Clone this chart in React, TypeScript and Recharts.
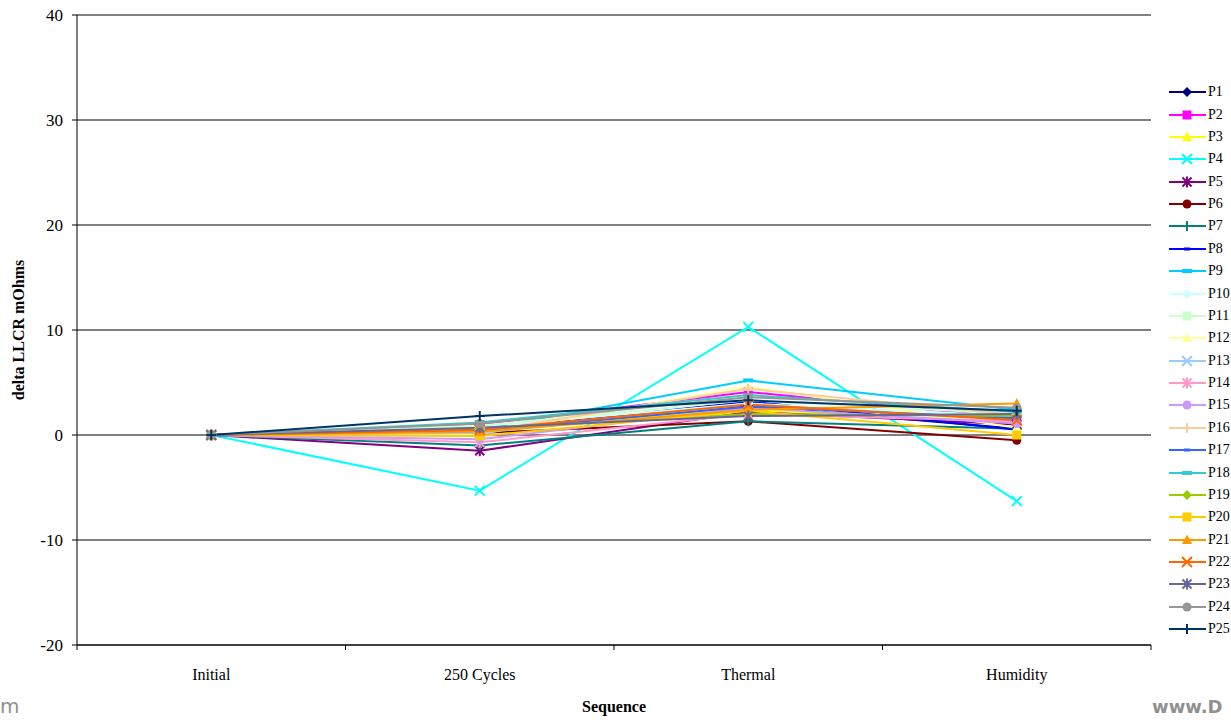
import { LineChart, Line, XAxis, YAxis, CartesianGrid } from "recharts";

// sequence steps on the x axis
const stages = ["Initial", "250 Cycles", "Thermal", "Humidity"];
const yTicks = [-20, -10, 0, 10, 20, 30, 40];

// delta LLCR (mOhms) per position
const p1 = [0, 0.3, 2.8, 0.6];
const p2 = [0, 1.0, 4.1, 1.6];
const p3 = [0, 0.6, 2.4, 1.2];
const p4 = [0, -5.3, 10.3, -6.3];
const p5 = [0, -1.5, 2.2, 1.0];
const p6 = [0, 0.2, 1.3, -0.5];
const p7 = [0, -1.0, 1.3, 0.6];
const p8 = [0, 0.4, 3.2, 0.5];
const p9 = [0, 0.5, 5.2, 2.4];
const p10 = [0, 0.8, 3.0, 1.8];
const p11 = [0, 0.9, 3.3, 2.0];
const p12 = [0, 0.1, 4.6, 0.7];
const p13 = [0, 0.2, 2.9, 1.5];
const p14 = [0, -0.7, 2.0, 1.3];
const p15 = [0, -0.4, 2.6, 1.1];
const p16 = [0, 0.3, 4.4, 1.9];
const p17 = [0, 0.4, 2.7, 1.6];
const p18 = [0, 1.2, 3.8, 2.2];
const p19 = [0, 0.6, 2.0, 1.8];
const p20 = [0, -0.1, 2.3, 0.0];
const p21 = [0, 0.3, 2.4, 3.0];
const p22 = [0, 0.5, 2.9, 1.4];
const p23 = [0, 0.7, 1.8, 2.0];
const p24 = [0, 1.1, 3.6, 2.6];
const p25 = [0, 1.8, 3.3, 2.3];

const seriesValues = [
  p1, p2, p3, p4, p5, p6, p7, p8, p9, p10, p11, p12, p13,
  p14, p15, p16, p17, p18, p19, p20, p21, p22, p23, p24, p25,
];
const seriesNames = seriesValues.map((_, i) => `P${i + 1}`);

const seriesColors = [
  "#000080", "#FF00FF", "#FFFF00", "#00FFFF", "#800080", "#800000", "#008080",
  "#0000FF", "#00CCFF", "#CCFFFF", "#CCFFCC", "#FFFF99", "#99CCFF", "#FF99CC",
  "#CC99FF", "#FFCC99", "#3366FF", "#33CCCC", "#99CC00", "#FFCC00", "#FF9900",
  "#FF6600", "#666699", "#969696", "#003366",
];
const markerShapes = ["diamond", "square", "triangle", "x", "star", "circle", "plus", "dash", "bar"];

const rows = stages.map((stage, i) => {
  const row: Record<string, string | number> = { stage };
  seriesNames.forEach((name, s) => {
    row[name] = seriesValues[s][i];
  });
  return row;
});

const W = 1231;
const H = 720;
const PLOT_LEFT = 77;
const PLOT_RIGHT = 1151;
const PLOT_TOP = 15;
const PLOT_BOTTOM = 645;
const BAND_HALF = (PLOT_RIGHT - PLOT_LEFT) / stages.length / 2;
const SERIF = "'Liberation Serif', 'Times New Roman', serif";

function Marker({ cx, cy, shape, color }: { cx: number; cy: number; shape: string; color: string }) {
  switch (shape) {
    case "diamond":
      return <polygon points={`${cx},${cy - 5} ${cx + 5},${cy} ${cx},${cy + 5} ${cx - 5},${cy}`} fill={color} />;
    case "square":
      return <rect x={cx - 4.5} y={cy - 4.5} width={9} height={9} fill={color} />;
    case "triangle":
      return <polygon points={`${cx},${cy - 5.5} ${cx + 5},${cy + 4} ${cx - 5},${cy + 4}`} fill={color} />;
    case "x":
      return (
        <path d={`M${cx - 5},${cy - 5}L${cx + 5},${cy + 5}M${cx + 5},${cy - 5}L${cx - 5},${cy + 5}`} stroke={color} strokeWidth={2} fill="none" />
      );
    case "star":
      return (
        <path
          d={`M${cx - 4.5},${cy - 4.5}L${cx + 4.5},${cy + 4.5}M${cx + 4.5},${cy - 4.5}L${cx - 4.5},${cy + 4.5}M${cx},${cy - 5.5}L${cx},${cy + 5.5}`}
          stroke={color}
          strokeWidth={2}
          fill="none"
        />
      );
    case "circle":
      return <circle cx={cx} cy={cy} r={4.5} fill={color} />;
    case "plus":
      return <path d={`M${cx},${cy - 5}L${cx},${cy + 5}M${cx - 5},${cy}L${cx + 5},${cy}`} stroke={color} strokeWidth={2} fill="none" />;
    case "dash":
      return <rect x={cx - 3} y={cy - 1.5} width={6} height={3} fill={color} />;
    default:
      return <rect x={cx - 5} y={cy - 2} width={10} height={4} fill={color} />;
  }
}

function StageTick(props: any) {
  const { x, payload, index } = props;
  return (
    <g>
      {index === 0 && <line x1={x - BAND_HALF} x2={x - BAND_HALF} y1={PLOT_BOTTOM} y2={PLOT_BOTTOM + 5} stroke="#000" />}
      <line x1={x + BAND_HALF} x2={x + BAND_HALF} y1={PLOT_BOTTOM} y2={PLOT_BOTTOM + 5} stroke="#000" />
      <text x={x} y={PLOT_BOTTOM + 35} textAnchor="middle" fontSize={16} fontFamily={SERIF} fill="#000">
        {payload.value}
      </text>
    </g>
  );
}

function ValueTick(props: any) {
  const { y, payload } = props;
  return (
    <text x={PLOT_LEFT - 14} y={y} dy={5.5} textAnchor="end" fontSize={17} fontFamily={SERIF} fill="#000">
      {payload.value}
    </text>
  );
}

function Legend() {
  return (
    <div style={{ position: "absolute", left: 1166, top: 81, fontFamily: SERIF, fontSize: 14, color: "#000" }}>
      {seriesNames.map((name, i) => (
        <div key={name} style={{ height: 22.375, display: "flex", alignItems: "center", whiteSpace: "nowrap" }}>
          <svg width={40} height={14} style={{ display: "block" }}>
            <line x1={3} x2={40} y1={7} y2={7} stroke={seriesColors[i]} strokeWidth={2} />
            <Marker cx={21} cy={7} shape={markerShapes[i % markerShapes.length]} color={seriesColors[i]} />
          </svg>
          <span style={{ marginLeft: 2 }}>{name}</span>
        </div>
      ))}
    </div>
  );
}

export default function App() {
  return (
    <div style={{ position: "absolute", left: 0, top: 0, width: W, height: H, overflow: "hidden", background: "#fff" }}>
      <LineChart width={W} height={H} data={rows} margin={{ top: PLOT_TOP, right: W - PLOT_RIGHT, bottom: 0, left: 0 }}>
        <CartesianGrid vertical={false} stroke="#000" strokeWidth={1} />
        <XAxis
          dataKey="stage"
          height={H - PLOT_BOTTOM}
          padding={{ left: BAND_HALF, right: BAND_HALF }}
          axisLine={{ stroke: "#000" }}
          tickLine={false}
          tick={<StageTick />}
          interval={0}
          label={{
            content: () => (
              <text x={(PLOT_LEFT + PLOT_RIGHT) / 2} y={712} textAnchor="middle" fontSize={16} fontWeight="bold" fontFamily={SERIF} fill="#000">
                Sequence
              </text>
            ),
          }}
        />
        <YAxis
          width={PLOT_LEFT}
          domain={[-20, 40]}
          ticks={yTicks}
          interval={0}
          axisLine={{ stroke: "#000" }}
          tickLine={{ stroke: "#000" }}
          tickSize={5}
          tick={<ValueTick />}
          label={{
            content: () => (
              <text
                x={18}
                y={(PLOT_TOP + PLOT_BOTTOM) / 2}
                transform={`rotate(-90, 18, ${(PLOT_TOP + PLOT_BOTTOM) / 2})`}
                textAnchor="middle"
                dominantBaseline="central"
                fontSize={16}
                fontWeight="bold"
                fontFamily={SERIF}
                fill="#000"
              >
                delta LLCR mOhms
              </text>
            ),
          }}
        />
        {seriesNames.map((name, i) => (
          <Line
            key={name}
            dataKey={name}
            type="linear"
            stroke={seriesColors[i]}
            strokeWidth={2}
            isAnimationActive={false}
            dot={(d: any) => (
              <g key={`${name}-${d.index}`}>
                <Marker cx={d.cx} cy={d.cy} shape={markerShapes[i % markerShapes.length]} color={seriesColors[i]} />
              </g>
            )}
            activeDot={false}
          />
        ))}
      </LineChart>
      <Legend />
      <div style={{ position: "absolute", left: 0, top: 694, fontFamily: "'DejaVu Sans', sans-serif", fontSize: 20, color: "#909090" }}>m</div>
      <div style={{ position: "absolute", left: 1152, top: 696, fontFamily: "'DejaVu Sans', sans-serif", fontSize: 18, fontWeight: "bold", color: "#909090", whiteSpace: "nowrap" }}>
        www.D
      </div>
    </div>
  );
}
